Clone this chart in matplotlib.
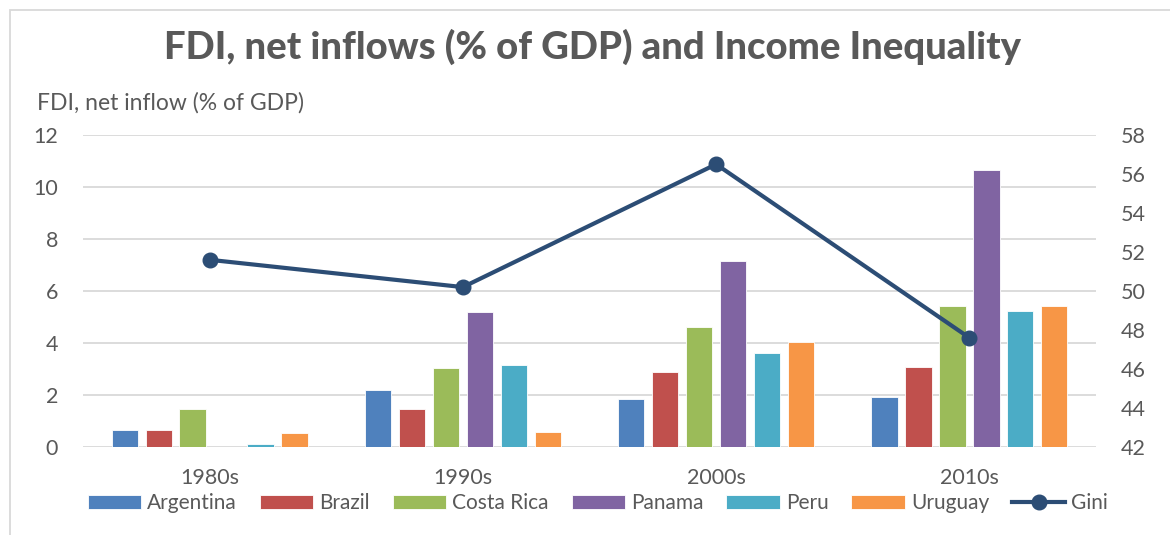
import numpy as np
import matplotlib
matplotlib.use("Agg")
import matplotlib.pyplot as plt
from matplotlib.patches import Rectangle

# decades and FDI net inflows (% of GDP) per country
decades = ["1980s", "1990s", "2000s", "2010s"]
countries = ["Argentina", "Brazil", "Costa Rica", "Panama", "Peru", "Uruguay"]
argentina = [0.64, 2.21, 1.85, 1.92]
brazil = [0.64, 1.46, 2.87, 3.07]
costa_rica = [1.47, 3.04, 4.63, 5.42]
panama = [0.0, 5.18, 7.15, 10.67]
peru = [0.11, 3.16, 3.60, 5.24]
uruguay = [0.52, 0.58, 4.05, 5.44]
# average Gini index per decade
gini = [51.6, 50.2, 56.5, 47.6]

colors = ["#4F81BD", "#C0504D", "#9BBB59", "#8064A2", "#4BACC6", "#F79646"]
gini_color = "#2C4D75"
text_color = "#595959"
grid_color = "#D9D9D9"

plt.rcParams["font.family"] = ["Lato", "DejaVu Sans"]

W, H = 1170, 535
fig = plt.figure(figsize=(W / 100, H / 100), dpi=100)
ax = fig.add_axes([83 / W, 1 - 447 / H, (1096 - 83) / W, (447 - 135) / H])
ax2 = ax.twinx()

# chart area border
fig.patches.append(Rectangle((10 / W, -0.1), 1.2, 1 - 10 / H + 0.1,
                             transform=fig.transFigure, fill=False,
                             edgecolor=grid_color, lw=1.3))

x = np.arange(len(decades))
step = 0.134
width = 0.104
series = [argentina, brazil, costa_rica, panama, peru, uruguay]
for i, (name, vals) in enumerate(zip(countries, series)):
    off = (i - 2.5) * step
    ax.bar(x + off, vals, width=width, color=colors[i], edgecolor="white",
           linewidth=0.6, label=name, zorder=2)

ax2.plot(x, gini, color=gini_color, lw=3, marker="o", markersize=10.5,
         label="Gini", zorder=3)

ax.set_xlim(-0.5, 3.5)
ax.set_ylim(0, 12)
ax.set_yticks(range(0, 13, 2))
ax2.set_ylim(42, 58)
ax2.set_yticks(range(42, 59, 2))
ax.set_xticks(x)
ax.set_xticklabels(decades)

ax.yaxis.grid(True, color=grid_color, lw=1.3, zorder=0)
ax.set_axisbelow(True)
for a in (ax, ax2):
    for s in a.spines.values():
        s.set_visible(False)
    a.tick_params(length=0, labelsize=15.5, colors=text_color)
ax.tick_params(axis="y", pad=18)
ax2.tick_params(axis="y", pad=18)
ax.tick_params(axis="x", pad=15)

fig.text(37 / W, 1 - 103 / H, "FDI, net inflow (% of GDP)", fontsize=16.5,
         color=text_color, va="center", ha="left")
fig.text(593 / W, 1 - 47 / H, "FDI, net inflows (% of GDP) and Income Inequality",
         fontsize=27.5, fontweight="black", color=text_color, ha="center", va="center")

h1, l1 = ax.get_legend_handles_labels()
h2, l2 = ax2.get_legend_handles_labels()
fig.legend(h1 + h2, l1 + l2, loc="center", bbox_to_anchor=(598 / W, 1 - 503 / H),
           ncol=7, frameon=False, fontsize=15, labelcolor=text_color,
           handlelength=2.55, handleheight=0.65, handletextpad=0.3, columnspacing=1.1)

fig.savefig("out.png", dpi=100)
